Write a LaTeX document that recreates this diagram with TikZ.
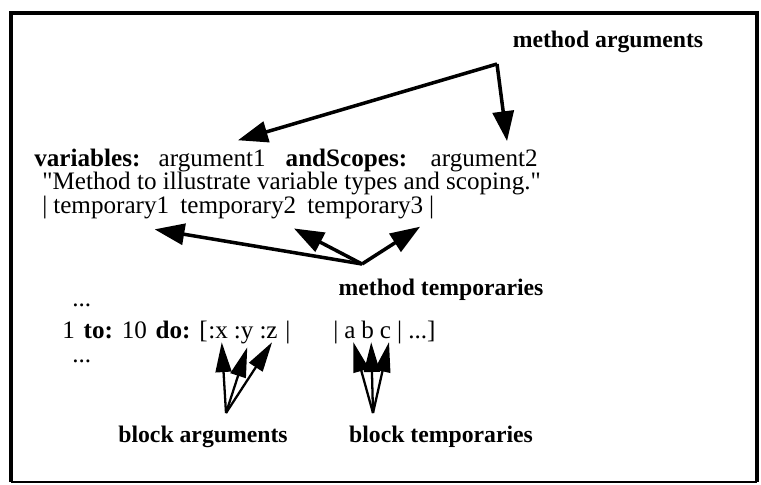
\documentclass[tikz,border=0pt]{standalone}
\usepackage{fontspec}
\setmainfont{Liberation Serif}[Ligatures=TeXOff]
\usetikzlibrary{arrows.meta,positioning}
\tikzset{
  code/.style={inner sep=0pt, anchor=base west, font=\fontsize{14.3}{17}\selectfont},
  callout/.style={inner sep=0pt, font=\fontsize{13.5}{16}\selectfont\bfseries},
  pointer/.style={-{Triangle[length=17pt,width=12pt]}, line width=2pt},
  thinpointer/.style={-{Triangle[length=17pt,width=9pt]}, line width=1.3pt},
}
\begin{document}
\begin{tikzpicture}[x=0.02cm, y=-0.02cm]
\useasboundingbox (0,0) rectangle (761,484);
% frame
\draw[line width=2.4pt] (11,482) -- (11,13) -- (757,13) -- (757,482);
\draw[line width=1pt] (11,482) -- (757,482);

% method header
\node[code] (vars) at (34,166) {\textbf{variables:}};
\node[code, base right=10pt of vars] (arg1) {argument1};
\node[code, base right=11pt of arg1] (andsc) {\textbf{andScopes:}};
\node[code, base right=13pt of andsc] (arg2) {argument2};
\node[code] (comment) at (42,189) {"Method to illustrate variable types and scoping."};
\node[code] (bar1) at (42,213) {|};
\node[code, base right=3pt of bar1] (tmp1) {temporary1};
\node[code, base right=6pt of tmp1] (tmp2) {temporary2};
\node[code, base right=6pt of tmp2] (tmp3) {temporary3};
\node[code, base right=3pt of tmp3] (bar2) {|};

% block in the body
\node[code] (dots1) at (72,306) {...};
\node[code] (loop) at (62,338) {1\hspace{0.35em}\textbf{to:}\hspace{0.35em}10\hspace{0.35em}\textbf{do:}\hspace{0.35em}[};
\node[code, base right=0pt of loop] (bx) {:x};
\node[code, base right=3pt of bx] (by) {:y};
\node[code, base right=3pt of by] (bz) {:z};
\node[code, base right=4pt of bz] (bar3) {|};
\node[code, base right=24pt of bar3] (bar4) {|};
\node[code, base right=3pt of bar4] (ta) {a};
\node[code, base right=3pt of ta] (tb) {b};
\node[code, base right=3pt of tb] (tc) {c};
\node[code, base right=3pt of tc] (rest) {| ...]};
\node[code] (dots2) at (72,362) {...};

% labels
\node[callout] (margs) at (608,42) {method arguments};
\node[callout] (mtemps) at (441,290) {method temporaries};
\node[callout] (bargs) at (203,437) {block arguments};
\node[callout] (btemps) at (441,437) {block temporaries};

\coordinate (forkA) at (497,64);
\coordinate (forkT) at (362,264);
\coordinate (forkB) at (226,413);
\coordinate (forkC) at (373,413);

\draw[pointer] (forkA) -- ([xshift=-16pt,yshift=5pt]arg1.north east);
\draw[pointer] (forkA) -- ([xshift=13pt,yshift=4.5pt]arg2.north);
\draw[pointer] (forkT) -- ([xshift=-8.5pt,yshift=-6pt]tmp1.south east);
\draw[pointer] (forkT) -- ([xshift=-1.5pt,yshift=-5.5pt]tmp2.south east);
\draw[pointer] (forkT) -- ([xshift=-2pt,yshift=-4.5pt]tmp3.south east);
\draw[thinpointer] (forkB) -- ([xshift=2pt,yshift=-2pt]bx.south);
\draw[thinpointer] (forkB) -- ([xshift=2pt,yshift=-2pt]by.south);
\draw[thinpointer] (forkB) -- ([xshift=2pt,yshift=-2pt]bz.south);
\draw[thinpointer] (forkC) -- ([xshift=2pt,yshift=-2pt]ta.south);
\draw[thinpointer] (forkC) -- ([xshift=2pt,yshift=-2pt]tb.south);
\draw[thinpointer] (forkC) -- ([xshift=2pt,yshift=-2pt]tc.south);
\end{tikzpicture}
\end{document}
